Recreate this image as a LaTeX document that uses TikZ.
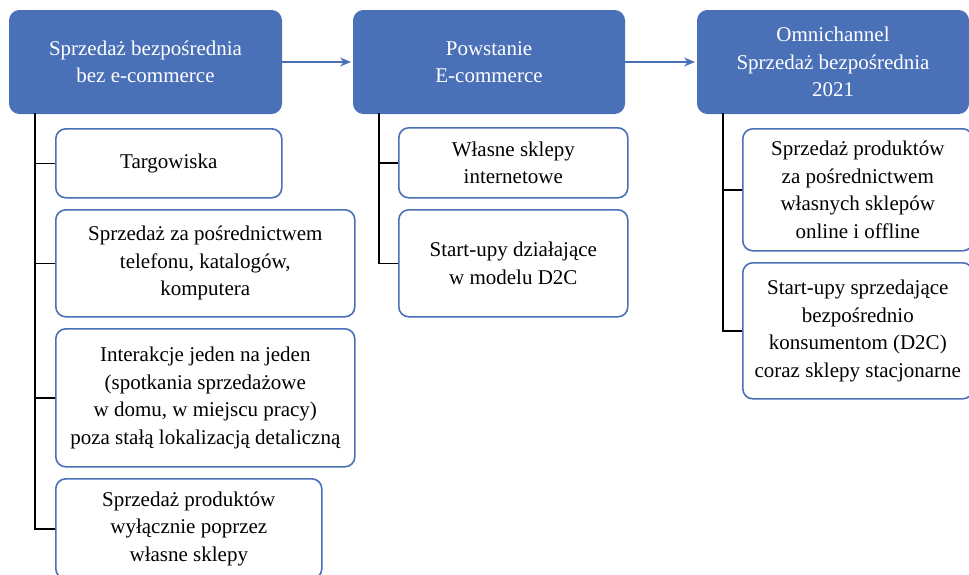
\documentclass[tikz,border=0pt]{standalone}
\usepackage{fontspec}
\setmainfont{Liberation Serif}
\usetikzlibrary{arrows.meta}
\definecolor{hblue}{HTML}{4A70B8}
\begin{document}
\begin{tikzpicture}[x=1pt,y=-1pt,
  txt/.style={font=\fontsize{21}{27.5}\selectfont},
  head/.style={txt,draw=hblue,fill=hblue,text=white,rounded corners=10pt,line width=1pt,
    anchor=north west,align=center,inner sep=0pt},
  item/.style={txt,draw=hblue,fill=white,text=black,rounded corners=10pt,line width=1.6pt,
    anchor=north west,align=center,inner sep=0pt},
  link/.style={draw=black,line width=1.5pt},
  flow/.style={draw=hblue,line width=1.4pt,-{Stealth[length=11pt,width=9pt]}}]
\clip (0,0) rectangle (969,574);
\fill[white] (0,0) rectangle (969,574);

% headers
\node[head,minimum width=272pt,minimum height=103pt] (h1) at (9,10) {Sprzedaż bezpośrednia\\bez e-commerce};
\node[head,minimum width=271pt,minimum height=103pt] (h2) at (353,10) {Powstanie\\E-commerce};
\node[head,minimum width=271pt,minimum height=103pt] (h3) at (697,10) {Omnichannel\\Sprzedaż bezpośrednia\\2021};

\draw[flow] (h1.east) -- ([xshift=-2pt]h2.west);
\draw[flow] (h2.east) -- ([xshift=-2pt]h3.west);

% column 1
\node[item,minimum width=226pt,minimum height=69pt] (a1) at (55,128) {Targowiska};
\node[item,minimum width=299pt,minimum height=107pt] (a2) at (55,209) {Sprzedaż za pośrednictwem\\telefonu, katalogów,\\komputera};
\node[item,minimum width=299pt,minimum height=138pt] (a3) at (55,328) {Interakcje jeden na jeden\\(spotkania sprzedażowe\\w domu, w miejscu pracy)\\poza stałą lokalizacją detaliczną};
\node[item,minimum width=266pt,minimum height=100pt] (a4) at (55,478) {Sprzedaż produktów\\wyłącznie poprzez\\własne sklepy};

% column 2
\node[item,minimum width=229pt,minimum height=70pt] (b1) at (398,127) {Własne sklepy\\internetowe};
\node[item,minimum width=229pt,minimum height=107pt] (b2) at (398,209) {Start-upy działające\\w modelu D2C};

% column 3
\node[item,minimum width=230pt,minimum height=122pt] (c1) at (742,128) {Sprzedaż produktów\\za pośrednictwem\\własnych sklepów\\online i offline};
\node[item,minimum width=230pt,minimum height=136pt] (c2) at (742,262) {Start-upy sprzedające\\bezpośrednio\\konsumentom (D2C)\\coraz sklepy stacjonarne};

% connectors
\coordinate (s1) at (35,113);
\coordinate (s2) at (379,113);
\coordinate (s3) at (723,113);
\draw[link] (s1) |- (a4.west);
\draw[link] (s1 |- a1.west) -- (a1.west);
\draw[link] (s1 |- a2.west) -- (a2.west);
\draw[link] (s1 |- a3.west) -- (a3.west);
\draw[link] (s2) |- (b2.west);
\draw[link] (s2 |- b1.west) -- (b1.west);
\draw[link] (s3) |- (c2.west);
\draw[link] (s3 |- c1.west) -- (c1.west);
\end{tikzpicture}
\end{document}
